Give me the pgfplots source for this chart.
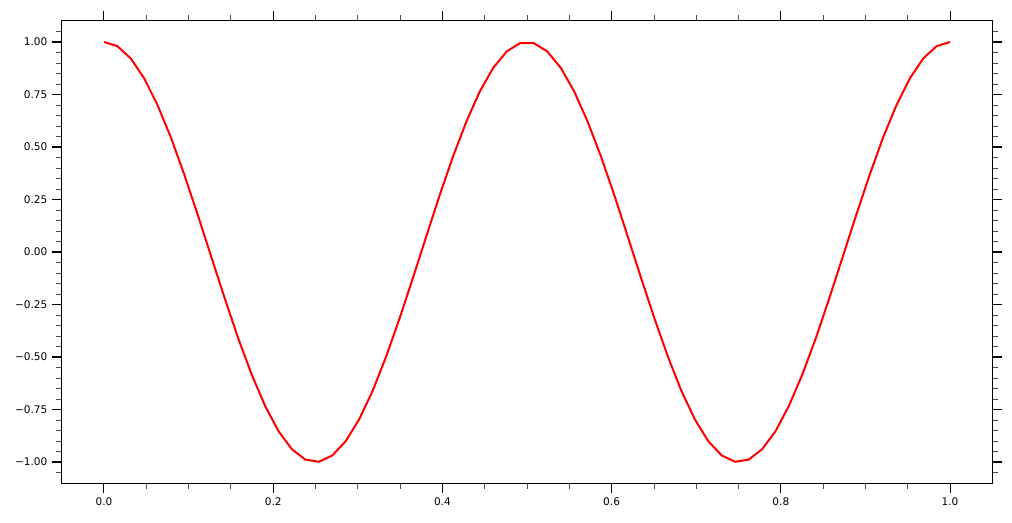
\documentclass[border=0pt]{standalone}
\usepackage{fontspec}
\setmainfont{DejaVu Sans}
\usepackage{pgfplots}
\pgfplotsset{compat=1.18}
\usetikzlibrary{calc}

\begin{document}
\begin{tikzpicture}
\begin{axis}[
    scale only axis,
    width=697.5pt, height=346.5pt,
    xmin=-0.0496, xmax=1.0496,
    ymin=-1.1, ymax=1.1,
    axis line style={line width=0.75pt},
    tick align=outside,
    xtick={0,0.2,0.4,0.6,0.8,1.0},
    xticklabels={0.0,0.2,0.4,0.6,0.8,1.0},
    ytick={-1,-0.75,-0.5,-0.25,0,0.25,0.5,0.75,1},
    yticklabels={−1.00,−0.75,−0.50,−0.25,0.00,0.25,0.50,0.75,1.00},
    minor xtick={0.05,0.1,0.15,0.25,0.3,0.35,0.45,0.5,0.55,0.65,0.7,0.75,0.85,0.9,0.95},
    minor ytick={-1.05,-0.95,-0.9,-0.85,-0.8,-0.7,-0.65,-0.6,-0.55,-0.45,-0.4,-0.35,-0.3,-0.2,-0.15,-0.1,-0.05,0.05,0.1,0.15,0.2,0.3,0.35,0.4,0.45,0.55,0.6,0.65,0.7,0.8,0.85,0.9,0.95,1.05},
    major tick length=7.5pt,
    minor tick length=4.5pt,
    major tick style={line width=0.8pt, black},
    minor tick style={line width=0.6pt, black!70},
    tick label style={font=\fontsize{7.9}{9}\selectfont},
]
\addplot[red, line width=1.5pt] coordinates {
(0,1) (0.0159,0.980172) (0.0317,0.921476) (0.0476,0.826239)
(0.0635,0.698237) (0.0794,0.542546) (0.0952,0.365341) (0.1111,0.173648)
(0.1270,-0.024931) (0.1429,-0.222521) (0.1587,-0.411287) (0.1746,-0.583744)
(0.1905,-0.733052) (0.2063,-0.853291) (0.2222,-0.939693) (0.2381,-0.988831)
(0.2540,-0.998757) (0.2698,-0.969077) (0.2857,-0.900969) (0.3016,-0.797133)
(0.3175,-0.661686) (0.3333,-0.5) (0.3492,-0.318487) (0.3651,-0.124344)
(0.3810,0.074730) (0.3968,0.270840) (0.4127,0.456211) (0.4286,0.623490)
(0.4444,0.766044) (0.4603,0.878222) (0.4762,0.955573) (0.4921,0.995031)
(0.5079,0.995031) (0.5238,0.955573) (0.5397,0.878222) (0.5556,0.766044)
(0.5714,0.623490) (0.5873,0.456211) (0.6032,0.270840) (0.6190,0.074730)
(0.6349,-0.124344) (0.6508,-0.318487) (0.6667,-0.5) (0.6825,-0.661686)
(0.6984,-0.797133) (0.7143,-0.900969) (0.7302,-0.969077) (0.7460,-0.998757)
(0.7619,-0.988831) (0.7778,-0.939693) (0.7937,-0.853291) (0.8095,-0.733052)
(0.8254,-0.583744) (0.8413,-0.411287) (0.8571,-0.222521) (0.8730,-0.024931)
(0.8889,0.173648) (0.9048,0.365341) (0.9206,0.542546) (0.9365,0.698237)
(0.9524,0.826239) (0.9683,0.921476) (0.9841,0.980172) (1,1)
};
\end{axis}
\pgfresetboundingbox
\path ($(current axis.south west)+(-46.5pt,-29.25pt)$) rectangle ($(current axis.north east)+(15pt,15.75pt)$);
\end{tikzpicture}
\end{document}
